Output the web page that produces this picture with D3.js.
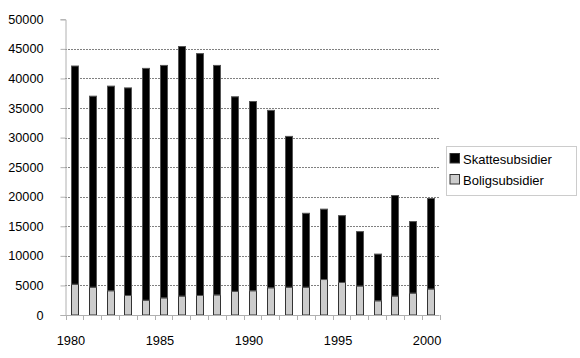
<!DOCTYPE html>
<html><head><meta charset="utf-8">
<script src="https://cdn.jsdelivr.net/npm/d3@7"></script>
<style>body{margin:0;background:#fff}svg{display:block}text{font-family:"Liberation Sans",Arial,Helvetica,sans-serif}</style>
</head><body>
<svg id="c" width="580" height="358"></svg>
<script>
const years = [1980,1981,1982,1983,1984,1985,1986,1987,1988,1989,1990,1991,1992,1993,1994,1995,1996,1997,1998,1999,2000];
const boligsubsidier = [5200,4700,4100,3300,2500,2900,3200,3300,3400,4000,4100,4600,4700,4700,6000,5500,4900,2400,3200,3700,4400];
const skattesubsidier = [36900,32300,34600,35100,39200,39300,42200,40900,38800,32900,32000,30000,25500,12500,11900,11300,9200,7900,17000,12100,15300];
const yTicks = [0,5000,10000,15000,20000,25000,30000,35000,40000,45000,50000];
const xLabels = [1980,1985,1990,1995,2000];
const seriesNames = ["Skattesubsidier","Boligsubsidier"];
const seriesColors = {"Skattesubsidier":"#000000","Boligsubsidier":"#cccccc"};

const svg = d3.select("#c");
const pLeft = 65.5, pRight = 439.5, pTop = 19.3, pBottom = 315;
const x = d3.scaleBand().domain(years).range([pLeft, pRight]).paddingInner(0).paddingOuter(0);
const y = d3.scaleLinear().domain([0,50000]).range([pBottom, pTop]);

// gridlines
svg.append("g").selectAll("line").data(yTicks.filter(d => d > 0 && d < 50000)).join("line")
  .attr("x1", pLeft).attr("x2", pRight)
  .attr("y1", d => Math.round(y(d)) + 0.5).attr("y2", d => Math.round(y(d)) + 0.5)
  .attr("stroke", "#000").attr("stroke-width", 1).attr("stroke-dasharray", "1,2");

// bars
const rows = years.map((yr, i) => ({year: yr, Boligsubsidier: boligsubsidier[i], Skattesubsidier: skattesubsidier[i]}));
const stack = d3.stack().keys(["Boligsubsidier","Skattesubsidier"]);
const stacked = stack(rows);
const bw = 7;
stacked.forEach(layer => {
  svg.append("g").selectAll("rect").data(layer).join("rect")
    .attr("x", d => Math.round(x(d.data.year) + x.bandwidth()/2 - bw/2) + 0.5)
    .attr("y", d => y(d[1]))
    .attr("width", bw)
    .attr("height", d => y(d[0]) - y(d[1]))
    .attr("fill", seriesColors[layer.key])
    .attr("stroke", layer.key === "Boligsubsidier" ? "#333" : "#555")
    .attr("stroke-width", 1);
});

// y axis
const yAxis = d3.axisLeft(y).tickValues(yTicks).tickSize(5).tickPadding(17).tickFormat(d3.format("d"));
const gy = svg.append("g").attr("transform", `translate(${pLeft},0)`).call(yAxis);
gy.select(".domain").attr("stroke", "#b0b0b0");
gy.selectAll(".tick line").attr("stroke", "#b0b0b0");
gy.selectAll("text").attr("font-size", 12.7).attr("fill", "#000").attr("font-family", '"Liberation Sans",Arial,sans-serif');

// x axis
const gx = svg.append("g").attr("transform", `translate(0,${pBottom})`);
gx.append("line").attr("x1", pLeft).attr("x2", pRight).attr("y1", 0.5).attr("y2", 0.5).attr("stroke", "#b0b0b0");
const tickPos = years.map(yr => x(yr)).concat([pRight]);
gx.selectAll("line.t").data(tickPos).join("line").attr("class","t")
  .attr("x1", d => Math.round(d)+0.5).attr("x2", d => Math.round(d)+0.5).attr("y1", 0).attr("y2", 5)
  .attr("stroke", "#b0b0b0");
gx.selectAll("text").data(xLabels).join("text")
  .attr("x", d => x(d) + x.bandwidth()/2 - 3.5)
  .attr("y", 30)
  .attr("text-anchor", "middle")
  .attr("font-size", 12.8)
  .text(d => d);

// legend
const lg = svg.append("g");
lg.append("rect").attr("x", 446.5).attr("y", 146.5).attr("width", 130).attr("height", 49)
  .attr("fill", "#fff").attr("stroke", "#ccc");
seriesNames.forEach((s, i) => {
  lg.append("rect").attr("x", 450).attr("y", 153.5 + i*21).attr("width", 9.5).attr("height", 9.5)
    .attr("fill", seriesColors[s]).attr("stroke", "#333");
  lg.append("text").attr("x", 463).attr("y", 163.5 + i*21).attr("font-size", 13).text(s);
});
</script>
</body></html>
